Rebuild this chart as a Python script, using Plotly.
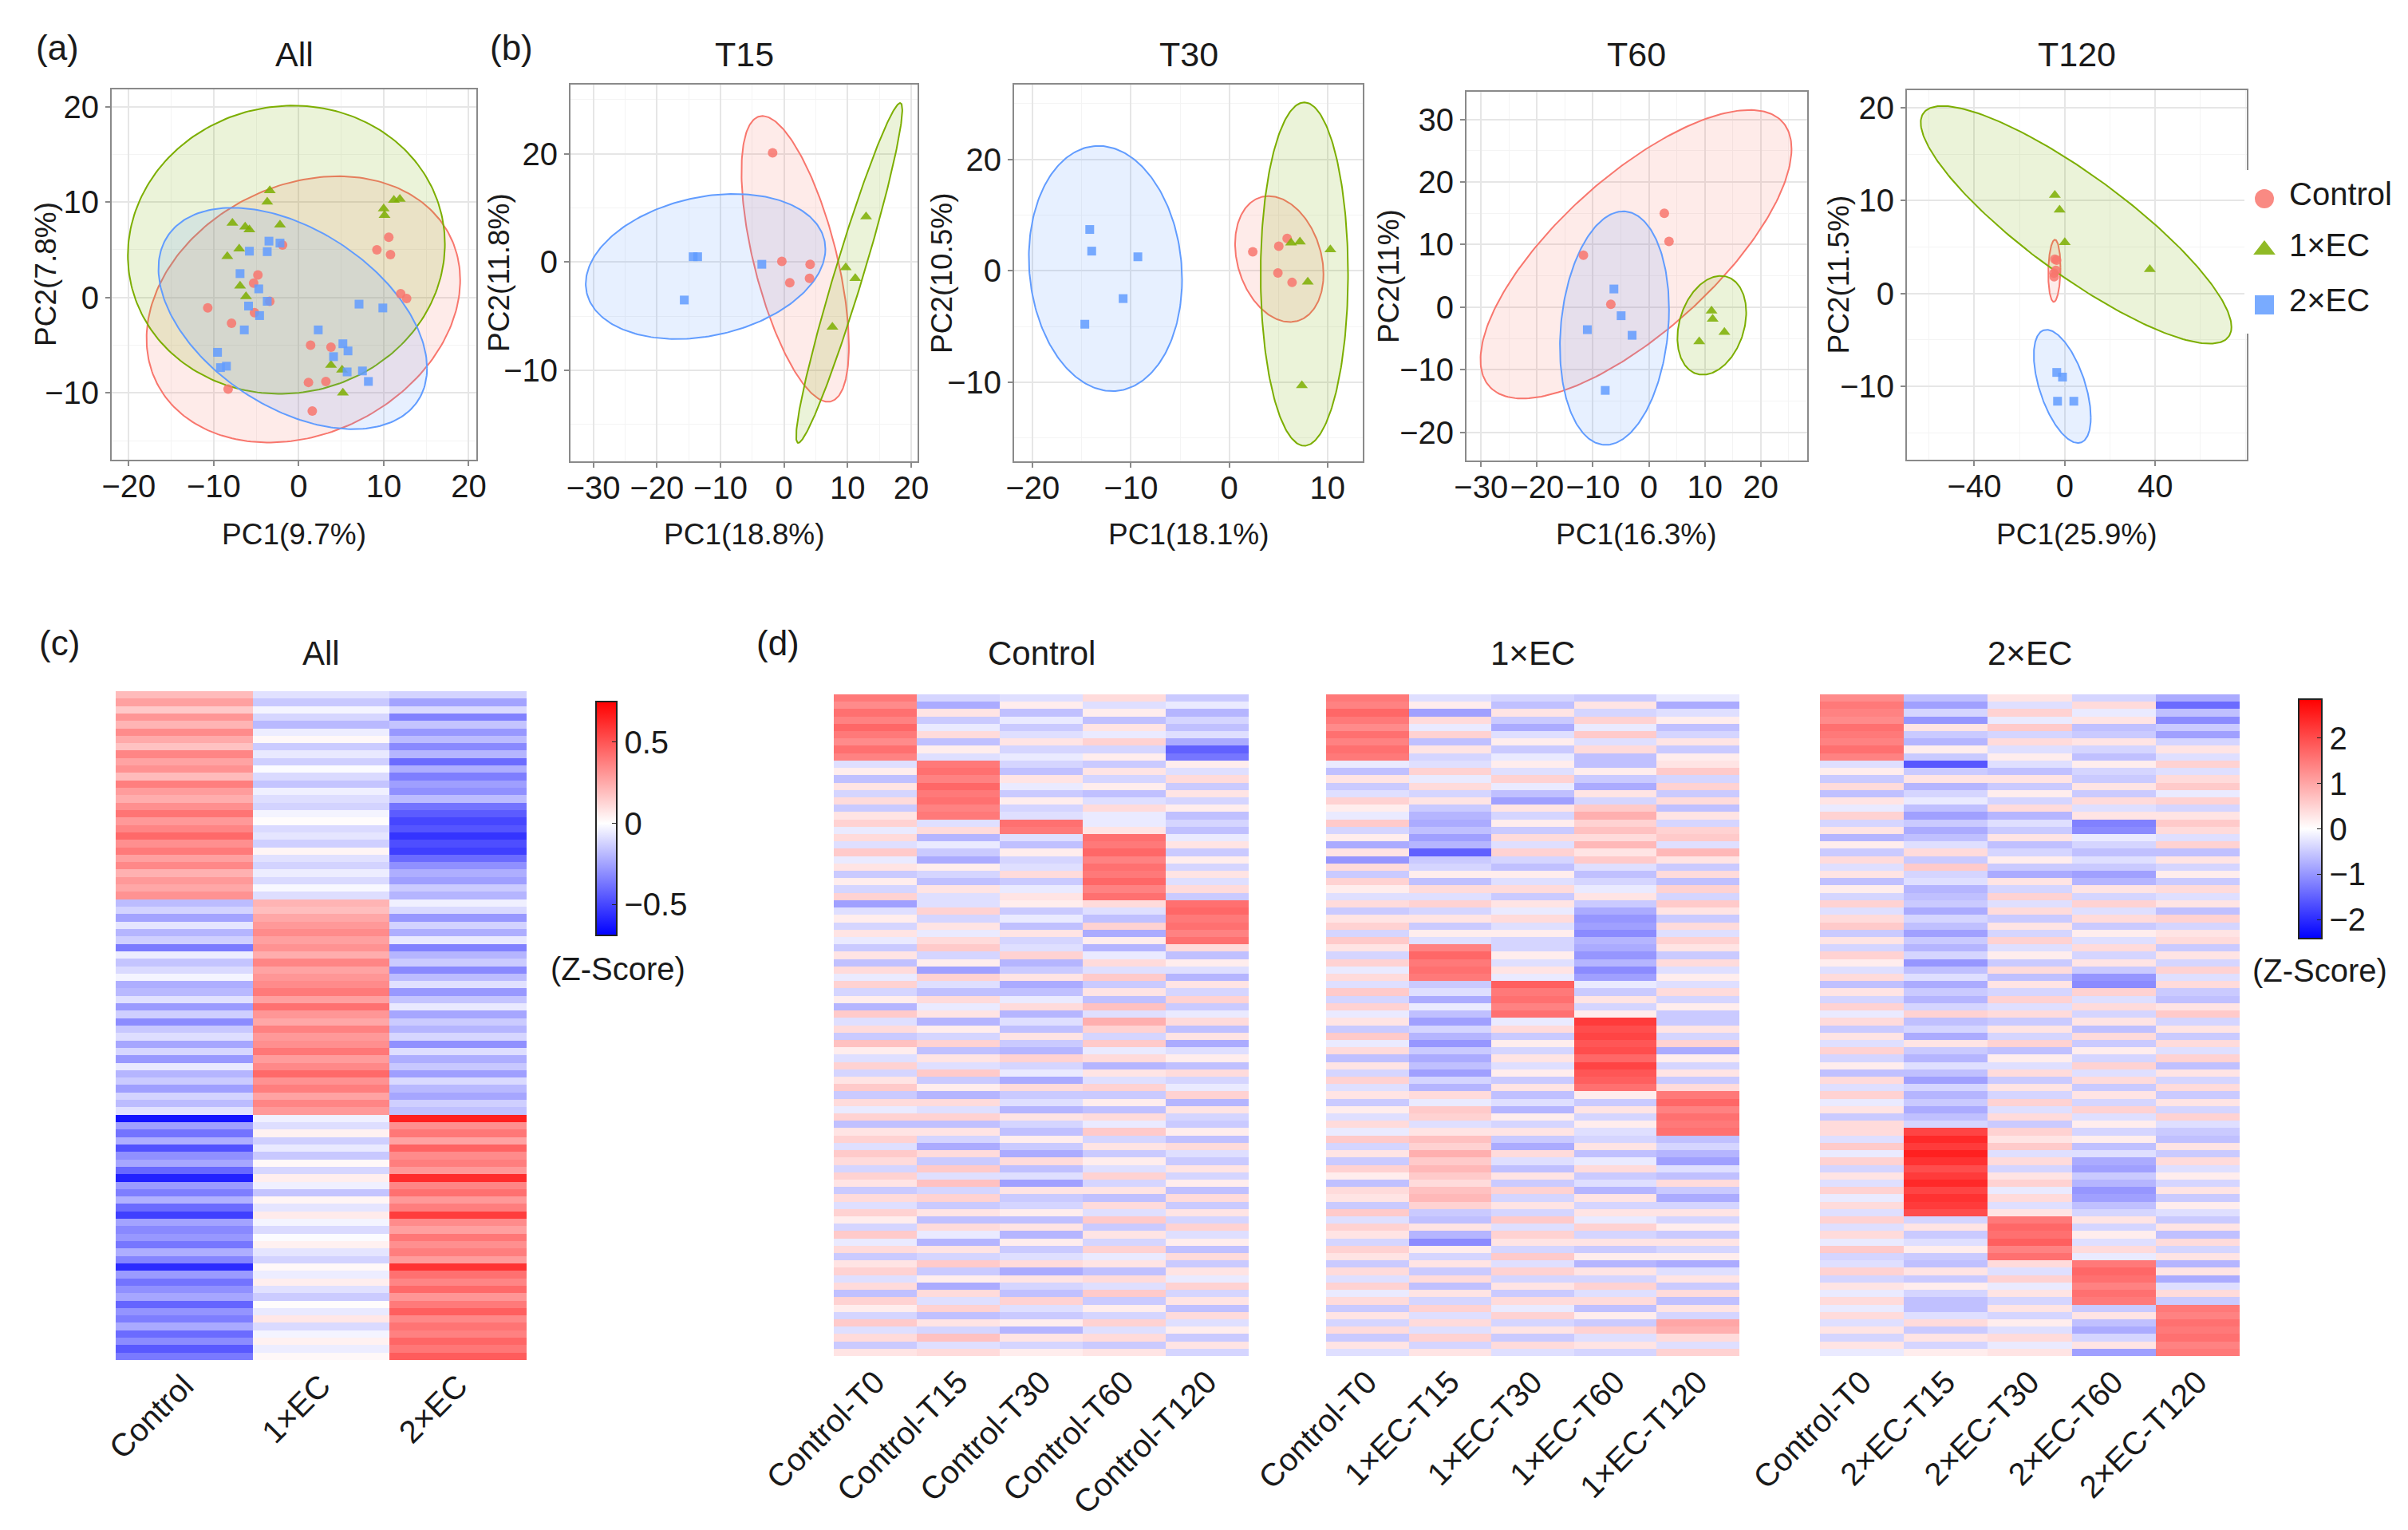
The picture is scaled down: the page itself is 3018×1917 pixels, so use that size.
import numpy as np
import plotly.graph_objects as go

W, H = 3018, 1917
FONT = "Arial, Liberation Sans, sans-serif"
TXT = "#1a1a1a"

GROUPS = ["Control", "1×EC", "2×EC"]
COLORS = {"Control": "#F8766D", "1×EC": "#7CAE00", "2×EC": "#619CFF"}
FILLS = {"Control": "rgba(248,118,109,0.15)", "1×EC": "rgba(124,174,0,0.15)", "2×EC": "rgba(97,156,255,0.15)"}
SYMBOLS = {"Control": "circle", "1×EC": "triangle-up", "2×EC": "square"}

# ---------------- PCA panels ----------------
pca_titles = ["All", "T15", "T30", "T60", "T120"]
pc1_labels = ["PC1(9.7%)", "PC1(18.8%)", "PC1(18.1%)", "PC1(16.3%)", "PC1(25.9%)"]
pc2_labels = ["PC2(7.8%)", "PC2(11.8%)", "PC2(10.5%)", "PC2(11%)", "PC2(11.5%)"]

all_ctrl_pc1 = [-1.9, -4.8, -5.3, -3.4, -5.2, -10.7, -7.9, -8.3, 1.4, 3.8, 1.15, 3.2, 1.6, 9.2, 10.6, 10.8, 12.0, 12.7]
all_ctrl_pc2 = [5.5, 2.35, 1.5, -0.4, -1.6, -1.1, -2.7, -9.6, -5.0, -5.2, -8.9, -8.8, -11.9, 5.0, 6.3, 4.5, 0.4, -0.1]
all_ec1_pc1 = [-3.4, -3.7, -7.8, -6.3, -5.8, -2.2, -7.0, -8.4, -6.9, -6.2, 10.0, 10.1, 11.2, 11.9, 3.8, 5.1, 5.2]
all_ec1_pc2 = [11.2, 10.0, 7.8, 7.4, 7.1, 7.6, 5.1, 4.3, 1.2, 0.1, 9.3, 8.6, 10.2, 10.3, -7.1, -7.6, -10.0]
all_ec2_pc1 = [-3.5, -2.2, -5.8, -3.7, -6.9, -4.7, -3.7, -5.9, -4.6, -6.4, -9.55, -9.2, -8.5, 7.1, 9.9, 2.3, 5.2, 5.8, 4.1, 5.7, 7.5, 8.2]
all_ec2_pc2 = [5.9, 5.7, 4.85, 4.8, 2.5, 0.9, -0.4, -0.9, -1.9, -3.4, -5.75, -7.35, -7.2, -0.7, -1.1, -3.4, -4.85, -5.6, -6.2, -7.8, -7.7, -8.8]

t15_ctrl_pc1 = [-1.8, -0.35, 0.9, 4.1, 4.0]
t15_ctrl_pc2 = [10.1, 0.07, -1.9, -0.2, -1.5]
t15_ec1_pc1 = [12.9, 9.7, 11.2, 7.6]
t15_ec1_pc2 = [4.2, -0.5, -1.5, -6.0]
t15_ec2_pc1 = [-14.3, -13.6, -15.7, -3.5]
t15_ec2_pc2 = [0.5, 0.5, -3.5, -0.2]

t30_ctrl_pc1 = [2.4, 5.05, 5.9, 4.96, 6.4]
t30_ctrl_pc2 = [1.7, 2.2, 2.9, -0.2, -1.05]
t30_ec1_pc1 = [6.3, 7.2, 10.3, 8.0, 7.4]
t30_ec1_pc2 = [2.5, 2.6, 1.9, -1.0, -10.3]
t30_ec2_pc1 = [-14.2, -14.0, -9.3, -10.8, -14.7]
t30_ec2_pc2 = [3.7, 1.76, 1.25, -2.5, -4.8]

t60_ctrl_pc1 = [2.76, 3.6, -11.7, -6.8]
t60_ctrl_pc2 = [15.0, 10.5, 8.3, 0.46]
t60_ec1_pc1 = [11.2, 11.4, 13.5, 9.0]
t60_ec1_pc2 = [-0.6, -1.9, -4.0, -5.5]
t60_ec2_pc1 = [-6.25, -4.96, -11.0, -3.0, -7.8]
t60_ec2_pc2 = [2.9, -1.37, -3.6, -4.5, -13.3]

t120_ctrl_pc1 = [-4.4, -3.6, -4.8, -4.7, -3.9]
t120_ctrl_pc2 = [3.7, 3.6, 2.2, 1.8, 2.5]
t120_ec1_pc1 = [-4.4, -2.3, 0.0, 37.6]
t120_ec1_pc2 = [10.6, 9.0, 5.5, 2.6]
t120_ec2_pc1 = [-3.55, -1.0, -3.2, 4.0]
t120_ec2_pc2 = [-8.5, -9.0, -11.6, -11.6]

# confidence ellipses: (centre PC1, centre PC2, half-width PC1, half-height PC2, correlation)
all_ellipses = [(0.55, -1.25, 18.45, 13.95, 0.22), (-1.45, 5.0, 18.65, 15.1, 0.04), (-0.7, -2.2, 15.8, 11.6, -0.45)]
t15_ellipses = [(1.75, 0.3, 8.45, 13.2, -0.61), (10.25, -1.0, 8.35, 15.7, 0.96), (-12.35, -0.4, 18.85, 6.7, 0.24)]
t30_ellipses = [(5.1, 1.05, 4.5, 5.65, -0.24), (7.65, -0.3, 4.45, 15.4, 0.0), (-12.6, 0.2, 7.8, 11.0, -0.09)]
t60_ellipses = [(-2.3, 8.45, 27.8, 23.05, 0.73), (11.25, -2.9, 6.15, 7.9, 0.26), (-6.15, -3.35, 9.75, 18.65, 0.16)]
t120_ellipses = [(-4.6, 2.45, 2.7, 3.35, 0.1), (5.0, 7.4, 68.7, 12.8, -0.86), (-1.1, -10.0, 12.6, 6.1, -0.55)]

pca_xrange = [[-22, 20.9], [-33.6, 21.0], [-21.9, 13.6], [-32.6, 28.3], [-69.8, 80.5]]
pca_yrange = [[-17, 21.8], [-18.4, 16.4], [-17.1, 16.7], [-24.5, 34.4], [-17.9, 21.9]]
pca_xticks = [[-20, -10, 0, 10, 20], [-30, -20, -10, 0, 10, 20], [-20, -10, 0, 10], [-30, -20, -10, 0, 10, 20], [-40, 0, 40]]
pca_yticks = [[-10, 0, 10, 20], [-10, 0, 10], [-10, 0, 10], [-20, -10, 0, 10, 20, 30], [-10, 0, 10, 20]]
pca_yticktext = [["−10", "0", "10", "20"], ["−10", "0", "20"], ["−10", "0", "20"],
                 ["−20", "−10", "0", "10", "20", "30"], ["−10", "0", "10", "20"]]
pca_xminor = [5, 5, 5, 5, 20]
pca_yminor = [5, 5, 5, 5, 5]

# ---------------- Heatmap data (Z-scores) ----------------
heat_all_cols = ["Control", "1×EC", "2×EC"]
heat_all = [
    [0.20, -0.08, -0.12], [0.28, -0.15, -0.25], [0.16, -0.03, -0.10], [0.31, -0.11, -0.34],
    [0.22, -0.19, -0.16], [0.34, -0.05, -0.28], [0.25, 0.02, -0.18], [0.18, -0.14, -0.32],
    [0.36, -0.06, -0.20], [0.27, -0.13, -0.40], [0.32, -0.01, -0.22], [0.20, -0.10, -0.35],
    [0.38, -0.16, -0.26], [0.29, -0.04, -0.30], [0.24, -0.09, -0.18], [0.33, -0.12, -0.38],
    [0.41, -0.03, -0.44], [0.30, 0.01, -0.50], [0.36, -0.10, -0.46], [0.44, -0.07, -0.55],
    [0.33, -0.13, -0.48], [0.39, 0.03, -0.52], [0.28, -0.08, -0.40], [0.35, -0.12, -0.30],
    [0.23, -0.05, -0.22], [0.30, -0.10, -0.26], [0.26, -0.02, -0.14], [0.32, -0.09, -0.20],
    [-0.18, 0.22, -0.04], [-0.12, 0.19, -0.10], [-0.25, 0.26, -0.28], [-0.07, 0.30, -0.12],
    [-0.20, 0.34, -0.22], [-0.13, 0.28, -0.06], [-0.36, 0.32, -0.34], [-0.05, 0.24, -0.20],
    [-0.16, 0.36, -0.14], [-0.10, 0.27, -0.32], [-0.03, 0.31, -0.18], [-0.22, 0.34, -0.08],
    [-0.19, 0.39, -0.28], [-0.08, 0.28, -0.16], [-0.27, 0.42, -0.06], [-0.13, 0.31, -0.24],
    [-0.31, 0.26, -0.14], [-0.15, 0.37, -0.20], [-0.09, 0.30, -0.11], [-0.24, 0.33, -0.30],
    [-0.11, 0.40, -0.09], [-0.28, 0.29, -0.22], [-0.06, 0.35, -0.15], [-0.20, 0.44, -0.26],
    [-0.14, 0.32, -0.10], [-0.26, 0.38, -0.19], [-0.12, 0.27, -0.24], [-0.18, 0.36, -0.13],
    [-0.08, 0.30, -0.17],
    [-0.64, -0.04, 0.66], [-0.26, -0.09, 0.33], [-0.38, 0.04, 0.40], [-0.22, -0.13, 0.27],
    [-0.47, -0.06, 0.46], [-0.30, -0.15, 0.34], [-0.24, 0.02, 0.38], [-0.41, -0.11, 0.30],
    [-0.60, 0.05, 0.62], [-0.27, -0.04, 0.36], [-0.35, -0.16, 0.42], [-0.21, 0.03, 0.30],
    [-0.40, -0.07, 0.38], [-0.52, 0.06, 0.57], [-0.25, -0.03, 0.34], [-0.32, -0.10, 0.28],
    [-0.28, -0.01, 0.40], [-0.37, 0.04, 0.33], [-0.22, -0.07, 0.38], [-0.33, -0.12, 0.29],
    [-0.57, 0.02, 0.60], [-0.27, -0.05, 0.42], [-0.38, 0.05, 0.36], [-0.30, -0.08, 0.44],
    [-0.24, -0.14, 0.31], [-0.42, 0.01, 0.39], [-0.29, -0.06, 0.47], [-0.35, 0.07, 0.35],
    [-0.23, -0.10, 0.41], [-0.40, -0.03, 0.37], [-0.31, 0.04, 0.45], [-0.45, -0.05, 0.40],
    [-0.36, 0.02, 0.48],
]

heat_ctrl_cols = ["Control-T0", "Control-T15", "Control-T30", "Control-T60", "Control-T120"]
heat_ctrl = [
    [1.5, -0.4, -0.3, 0.4, -0.5], [1.3, -0.8, 0.2, -0.3, -0.2], [1.6, 0.3, -0.6, 0.2, -0.7],
    [1.4, -0.5, -0.2, -0.6, -0.4], [1.7, -0.2, -0.5, 0.3, -0.6], [1.5, 0.4, -0.3, -0.2, -0.3],
    [1.3, -0.6, 0.3, 0.5, -0.8], [1.6, 0.2, -0.4, -0.4, -1.5], [1.4, -0.3, -0.2, 0.2, -1.3],
    [-0.3, 1.5, -0.4, -0.5, 0.2], [0.2, 1.6, -0.6, 0.3, -0.3], [-0.6, 1.4, 0.3, -0.4, 0.4],
    [0.3, 1.7, -0.2, 0.2, -0.5], [-0.4, 1.5, -0.5, -0.6, 0.3], [0.4, 1.6, 0.2, -0.3, -0.4],
    [-0.5, 1.4, -0.4, 0.4, 0.2], [0.3, 1.5, -0.3, -0.2, -0.6],
    [0.5, -0.3, 1.6, -0.2, -0.4], [-0.2, 0.4, 1.5, 0.3, -0.6],
    [0.4, -0.7, -0.3, 1.6, -0.2], [-0.3, -0.2, -0.6, 1.5, 0.3], [0.6, -0.5, 0.2, 1.7, -0.5],
    [-0.2, -0.8, -0.4, 1.4, 0.2], [0.3, 0.2, -0.3, 1.6, -0.4], [-0.5, -0.4, 0.4, 1.5, 0.3],
    [0.2, -0.6, -0.5, 1.7, -0.3], [-0.4, 0.3, -0.2, 1.4, 0.4], [0.5, -0.3, 0.3, 1.6, -0.5],
    [-0.9, -0.3, 0.2, 0.4, 1.6], [-0.3, 0.5, -0.5, -0.3, 1.7], [0.2, -0.4, -0.2, -0.6, 1.5],
    [-0.4, 0.3, -0.6, 0.5, 1.6], [0.3, -0.2, 0.3, -0.8, 1.4], [-0.2, 0.4, -0.4, 0.2, 1.6],
    [-0.5, 0.6, -0.3, -0.7, 0.4], [0.3, -0.4, 0.5, -0.2, -0.6], [-0.6, 0.2, -0.7, 0.4, 0.2],
    [0.4, -0.9, -0.5, -0.3, -0.3], [-0.2, 0.5, 0.3, 0.6, -0.7], [0.5, -0.3, -0.8, -0.5, 0.3],
    [-0.4, -0.6, -0.6, 0.3, -0.4], [0.2, 0.4, -0.2, -0.6, 0.5], [-0.7, -0.2, 0.4, 0.7, -0.5],
    [0.6, 0.3, -0.7, -0.3, -0.2], [-0.3, -0.7, -0.3, 0.9, 0.4], [0.4, 0.2, -0.6, 0.5, -0.6],
    [-0.5, -0.4, 0.3, -0.4, 0.3], [0.7, 0.5, -0.5, 0.6, -0.8], [0.2, -0.6, -0.7, -0.2, -0.3],
    [-0.3, 0.3, 0.5, 0.4, 0.2], [0.5, -0.3, -0.4, -0.7, -0.6], [-0.4, 0.6, -0.2, 0.3, 0.4],
    [0.3, -0.5, -0.8, -0.3, -0.4], [0.6, 0.2, 0.4, 0.5, -0.2], [-0.5, -0.7, -0.5, -0.5, 0.5],
    [0.4, 0.4, -0.3, 0.2, -0.7], [-0.2, -0.3, -0.7, -0.6, 0.3], [0.5, 0.5, 0.3, 0.4, -0.4],
    [-0.6, -0.6, -0.4, -0.2, -0.5], [0.3, 0.3, -0.6, 0.6, 0.2], [0.5, -0.4, 0.2, -0.4, -0.6],
    [-0.3, -0.8, -0.5, 0.3, 0.4], [0.6, 0.4, -0.8, -0.5, -0.3], [0.4, -0.5, 0.4, 0.2, -0.5],
    [-0.4, 0.6, -0.6, -0.3, 0.3], [0.5, -0.3, -0.3, 0.5, -0.4], [0.3, 0.7, -0.9, -0.4, 0.2],
    [-0.5, -0.4, 0.3, 0.3, -0.6], [0.4, 0.5, -0.5, -0.6, 0.4], [-0.3, -0.5, -0.4, 0.4, -0.5],
    [0.5, 0.3, 0.2, -0.3, 0.3], [0.2, -0.6, -0.6, 0.6, -0.4], [-0.4, 0.4, 0.3, -0.5, 0.5],
    [0.6, -0.2, -0.7, 0.3, -0.3], [-0.2, -0.7, 0.2, -0.4, 0.2], [0.4, 0.3, -0.5, 0.5, -0.6],
    [-0.5, -0.4, -0.3, -0.2, 0.4], [0.3, 0.6, 0.4, 0.3, -0.5], [0.5, -0.5, -0.8, -0.6, 0.3],
    [-0.3, 0.2, 0.3, 0.4, -0.2], [0.4, -0.8, -0.4, -0.3, 0.5], [-0.6, 0.4, -0.6, 0.6, -0.4],
    [0.5, -0.3, 0.5, -0.5, 0.3], [0.2, 0.5, -0.3, 0.2, -0.6], [-0.4, -0.6, -0.5, -0.4, 0.4],
    [0.6, 0.3, 0.2, 0.5, -0.3], [-0.3, -0.4, -0.7, -0.3, 0.2], [0.4, 0.7, 0.3, 0.4, -0.5],
    [-0.5, -0.3, -0.4, -0.5, 0.3], [0.3, 0.4, 0.2, 0.3, -0.4],
]

heat_ec1_cols = ["Control-T0", "1×EC-T15", "1×EC-T30", "1×EC-T60", "1×EC-T120"]
heat_ec1 = [
    [1.5, -0.3, -0.4, -0.5, -0.2], [1.4, 0.2, -0.6, 0.3, -0.8], [1.7, -0.9, 0.3, -0.4, -0.3],
    [1.5, 0.4, -0.5, 0.5, 0.2], [1.3, -0.2, -0.8, -0.2, -0.6], [1.6, 0.5, -0.3, 0.6, -0.4],
    [1.4, -0.6, 0.2, -0.3, 0.3], [1.6, 0.3, -0.5, 0.4, -0.5], [1.5, -0.4, -0.2, -0.6, 0.2],
    [-0.2, -0.3, 0.2, -0.6, 0.3], [-0.6, 0.5, -0.3, 0.2, 0.6], [0.3, -0.2, 0.5, -0.5, -0.4],
    [-0.5, 0.4, -0.2, -0.8, 0.5], [-0.3, -0.4, -0.6, 0.3, -0.5], [0.5, 0.3, -0.9, -0.4, 0.4],
    [0.2, -0.5, 0.3, 0.6, -0.6], [-0.2, -0.7, -0.4, 0.9, 0.3], [0.6, -0.8, 0.2, 0.5, -0.4],
    [-0.4, -0.6, -0.5, 0.7, 0.5], [0.2, -0.9, 0.4, 0.4, 0.6], [-0.8, -0.7, -0.3, 0.8, -0.3],
    [0.3, -1.5, 0.5, 0.3, 0.8], [-1.0, -0.5, -0.4, 0.6, 0.3], [0.4, -0.4, -0.6, -0.3, -0.5],
    [-0.5, 0.2, 0.2, -0.6, 0.4], [0.5, -0.6, -0.3, -0.4, -0.6], [0.2, 0.4, 0.4, -0.2, 0.5],
    [-0.3, -0.3, -0.5, 0.3, -0.4], [0.4, 0.5, 0.3, -0.5, 0.6], [-0.5, -0.4, -0.2, -0.8, 0.3],
    [0.3, 0.3, 0.4, -1.0, -0.5], [0.5, -0.5, -0.3, -0.9, 0.4], [-0.4, 0.2, 0.2, -1.1, -0.3],
    [0.6, -0.3, -0.4, -0.7, 0.5],
    [0.3, 1.4, -0.4, -0.8, 0.3], [-0.4, 1.7, 0.2, -1.0, -0.5], [0.5, 1.5, -0.3, -0.7, 0.4],
    [-0.2, 1.6, 0.3, -1.1, -0.3], [0.4, 1.5, -0.2, -0.9, 0.2],
    [-0.3, -0.5, 1.8, -0.2, -0.3], [0.6, -0.3, 1.5, -0.5, 0.4], [-0.4, -0.8, 1.6, 0.3, -0.4],
    [0.5, -0.2, 1.4, -0.4, 0.2], [-0.2, -0.6, 1.6, 0.2, -0.5],
    [0.3, -0.9, -0.2, 2.2, -0.5], [-0.5, -0.4, 0.4, 2.0, 0.3], [0.6, -0.7, -0.5, 2.1, -0.4],
    [-0.2, -1.0, 0.2, 1.9, 0.5], [0.4, -0.5, -0.4, 2.0, -0.8], [-0.6, -0.8, 0.3, 1.7, 0.2],
    [0.3, -0.6, -0.3, 2.1, -0.4], [-0.4, -0.9, 0.2, 1.9, 0.3], [0.5, -0.4, -0.5, 1.8, -0.5],
    [-0.3, -0.7, 0.3, 1.6, 0.4],
    [0.3, 0.4, -0.6, 0.2, 1.5], [-0.5, -0.2, -0.3, -0.5, 1.7], [0.2, 0.6, -0.7, 0.3, 1.4],
    [-0.3, 0.5, 0.2, -0.4, 1.6], [0.4, -0.3, -0.4, 0.2, 1.5], [-0.2, 0.3, 0.3, -0.3, 1.6],
    [0.6, 0.7, -0.5, -0.4, -0.6], [-0.4, 0.5, -0.8, 0.3, -0.4], [0.3, 0.9, 0.4, -0.6, -0.7],
    [-0.5, 0.6, -0.3, -0.2, -0.9], [0.5, 0.8, -0.6, 0.4, -0.3], [0.2, 0.6, 0.3, -0.5, -0.6],
    [-0.6, 0.4, -0.5, -0.3, 0.4], [0.4, 0.7, 0.5, -0.7, -0.5], [0.3, 0.8, -0.4, 0.3, -0.8],
    [-0.5, 0.5, 0.3, -0.4, -0.4], [0.6, -0.5, -0.4, 0.3, 0.3], [-0.3, -0.6, 0.6, -0.2, -0.4],
    [0.5, 0.3, -0.3, 0.5, 0.2], [0.3, -0.7, 0.5, -0.4, -0.5], [-0.4, -1.1, 0.3, 0.3, 0.3],
    [0.5, 0.2, -0.4, -0.5, -0.4], [0.3, -0.4, 0.6, 0.2, 0.2], [-0.5, 0.3, -0.3, -0.7, -0.8],
    [0.4, -0.5, 0.5, 0.3, -0.3], [-0.3, 0.4, -0.4, -0.4, 0.3], [0.5, -0.6, 0.3, 0.5, -0.5],
    [-0.2, 0.3, -0.5, -0.3, 0.4], [0.4, -0.4, 0.4, 0.4, -0.6], [-0.5, 0.5, -0.2, -0.6, 0.3],
    [0.3, -0.3, 0.5, 0.2, -0.4], [-0.4, 0.4, -0.4, -0.5, 1.0], [0.4, -0.3, 0.3, 0.5, 0.9],
    [-0.5, 0.5, -0.5, -0.3, 0.4], [0.3, -0.4, 0.4, 0.3, -0.3], [-0.3, 0.3, -0.3, -0.4, 0.5],
]

heat_ec2_cols = ["Control-T0", "2×EC-T15", "2×EC-T30", "2×EC-T60", "2×EC-T120"]
heat_ec2 = [
    [1.3, -0.6, 0.3, -0.4, -0.8], [1.5, -0.9, -0.3, 0.4, -1.4], [1.4, -0.4, 0.5, -0.2, -0.6],
    [1.3, -1.0, -0.2, 0.3, -1.1], [1.6, 0.3, 0.6, -0.6, -0.5], [1.5, -0.5, -0.4, -0.5, -0.9],
    [1.4, -0.7, 0.4, 0.3, -0.4], [1.6, 0.2, -0.3, -0.4, 0.3], [1.4, -0.5, 0.2, -0.6, -0.3],
    [-0.3, -1.6, -0.3, 0.2, 0.5], [0.2, -0.5, -0.6, -0.4, -0.3], [-0.5, 0.3, 0.3, -0.5, 0.4],
    [0.4, -0.7, -0.5, 0.3, 0.6], [-0.6, -0.4, 0.2, -0.5, -0.2], [0.3, -0.2, -0.4, 0.4, 0.5],
    [-0.2, -0.6, 0.4, -0.3, -0.4], [0.5, -0.9, -0.7, 0.3, 0.3], [-0.4, -0.5, -0.3, -1.2, 0.6],
    [0.3, -0.8, -0.5, -1.1, 0.4], [-0.7, -0.6, 0.3, -0.2, -0.3], [0.2, -0.3, -0.6, -0.4, 0.5],
    [-0.5, 0.4, -0.4, -0.6, -0.6], [0.4, -0.5, 0.2, -0.3, 0.3], [-0.3, 0.6, -0.5, -0.5, -0.4],
    [0.3, -0.4, -0.8, -0.9, 0.2], [-0.6, -0.3, 0.3, -0.7, -0.5], [0.2, -0.7, -0.4, 0.3, 0.4],
    [-0.4, -0.6, 0.5, -0.4, -0.3], [0.5, -0.5, -0.3, 0.5, 0.3], [-0.3, -0.8, 0.4, -0.3, -0.6],
    [0.4, -0.4, -0.5, 0.4, 0.5], [0.6, -0.6, 0.3, -0.5, -0.4], [-0.5, -0.9, -0.4, 0.2, 0.3],
    [0.3, -0.5, 0.5, -0.3, 0.4], [-0.4, -0.7, -0.3, 0.4, -0.5], [0.5, -0.4, 0.2, -0.4, 0.3],
    [0.2, -1.0, -0.5, 0.3, -0.4], [-0.3, -0.6, 0.4, -0.5, 0.5], [0.4, -0.3, -0.6, -1.0, -0.3],
    [-0.6, -0.8, 0.3, -1.1, 0.4], [0.3, -0.5, -0.4, 0.5, -0.5], [-0.4, -0.7, 0.5, -0.3, -0.6],
    [0.5, -0.4, -0.3, 0.4, 0.3], [-0.2, 0.5, 0.4, -0.4, 0.6], [0.4, -0.6, -0.5, 0.3, -0.4],
    [-0.5, -0.4, 0.3, -0.6, 0.3], [0.3, -0.8, -0.4, 0.4, -0.5], [-0.3, 0.3, 0.5, -0.5, 0.4],
    [0.5, -0.5, -0.6, 0.2, -0.3], [-0.4, -0.7, 0.2, -0.4, 0.5], [0.2, -0.3, -0.3, 0.5, -0.6],
    [-0.6, -0.6, 0.4, -0.3, 0.3], [0.4, -0.9, -0.5, 0.4, -0.4], [-0.3, -0.4, 0.3, -0.5, 0.4],
    [0.5, -0.7, -0.4, 0.3, -0.5], [-0.2, -0.5, 0.5, -0.4, 0.3], [0.3, -0.8, -0.3, 0.5, -0.4],
    [-0.5, -0.6, 0.4, -0.3, 0.5], [0.4, -0.4, -0.5, 0.2, -0.3],
    [0.4, 2.1, 0.5, -0.4, -0.5], [-0.3, 2.4, 0.3, 0.2, -0.6], [0.6, 2.2, 0.6, -0.6, 0.3],
    [-0.2, 2.5, -0.3, -0.3, -0.5], [0.5, 2.3, 0.4, -0.8, 0.4], [-0.4, 2.0, -0.4, -0.9, -0.3],
    [0.3, 2.2, 0.3, -0.5, 0.2], [-0.3, 2.4, 0.5, -0.7, -0.4], [0.5, 2.1, -0.2, -1.0, 0.3],
    [-0.2, 2.3, 0.4, -0.9, -0.5], [0.4, 2.2, -0.3, -0.6, 0.2], [-0.3, 2.0, 0.3, -0.4, -0.3],
    [0.5, -0.4, 1.5, 0.3, -0.5], [-0.3, 0.3, 1.7, -0.4, 0.3], [0.4, -0.5, 1.6, 0.2, -0.6],
    [-0.2, -0.3, 1.8, -0.3, 0.4], [0.6, 0.2, 1.4, 0.4, -0.4], [-0.4, -0.5, 1.6, -0.2, 0.3],
    [-0.3, -0.6, 0.4, 1.5, -0.7], [0.5, 0.3, -0.3, 1.7, 0.3], [-0.4, -0.5, 0.5, 1.6, -0.8],
    [0.3, 0.2, -0.2, 1.4, -0.3], [-0.2, -0.4, 0.3, 1.6, 0.4], [0.4, -0.6, -0.4, 1.5, -0.5],
    [-0.2, -0.6, 0.3, -0.5, 1.5], [0.4, -0.3, -0.4, 0.3, 1.4], [-0.3, 0.4, 0.2, -0.6, 1.6],
    [0.3, -0.5, -0.3, -0.8, 1.5], [-0.4, 0.3, 0.4, -0.4, 1.6], [0.3, -0.4, -0.2, 0.3, 1.4],
    [-0.2, 0.2, 0.3, -0.9, 1.5],
]

legend_labels = ["Control", "1×EC", "2×EC"]

# ---------------- layout helpers ----------------
def dx(a, b):
    return [a / W, b / W]

def dy(top, bottom):
    return [1 - bottom / H, 1 - top / H]

def px(x):
    return x / W

def py(y):
    return 1 - y / H

def ann(text, x, y, size, angle=0, xanchor="center"):
    return dict(text=text, x=px(x), y=py(y), xref="paper", yref="paper", showarrow=False,
                xanchor=xanchor, yanchor="middle", textangle=angle,
                font=dict(family=FONT, size=size, color=TXT))

fig = go.Figure()
layout = {}
annotations = []

pca_boxes = [(132, 589, 104, 568), (707, 1142, 98, 570), (1263, 1700, 98, 570),
             (1830, 2257, 107, 569), (2382, 2808, 105, 568)]
pc2_title_x = [50, 617, 1172, 1733, 2296]

pca_points = [
    [(all_ctrl_pc1, all_ctrl_pc2), (all_ec1_pc1, all_ec1_pc2), (all_ec2_pc1, all_ec2_pc2)],
    [(t15_ctrl_pc1, t15_ctrl_pc2), (t15_ec1_pc1, t15_ec1_pc2), (t15_ec2_pc1, t15_ec2_pc2)],
    [(t30_ctrl_pc1, t30_ctrl_pc2), (t30_ec1_pc1, t30_ec1_pc2), (t30_ec2_pc1, t30_ec2_pc2)],
    [(t60_ctrl_pc1, t60_ctrl_pc2), (t60_ec1_pc1, t60_ec1_pc2), (t60_ec2_pc1, t60_ec2_pc2)],
    [(t120_ctrl_pc1, t120_ctrl_pc2), (t120_ec1_pc1, t120_ec1_pc2), (t120_ec2_pc1, t120_ec2_pc2)],
]
pca_ellipses = [all_ellipses, t15_ellipses, t30_ellipses, t60_ellipses, t120_ellipses]

tt = np.linspace(0, 2 * np.pi, 241)
marker_sizes = {"Control": 12, "1×EC": 13, "2×EC": 11}

for i in range(5):
    n = i + 1
    xa = "x" if n == 1 else f"x{n}"
    ya = "y" if n == 1 else f"y{n}"
    l, r, t, b = pca_boxes[i]
    for g, (cx, cy, rx, ry, rho) in zip(GROUPS, pca_ellipses[i]):
        ex = cx + rx * np.cos(tt)
        ey = cy + ry * (rho * np.cos(tt) + np.sqrt(1 - rho ** 2) * np.sin(tt))
        fig.add_trace(go.Scatter(x=ex, y=ey, mode="lines", fill="toself",
                                 fillcolor=FILLS[g], line=dict(color=COLORS[g], width=2),
                                 hoverinfo="skip", showlegend=False, xaxis=xa, yaxis=ya))
    for g, (xs, ys) in zip(GROUPS, pca_points[i]):
        fig.add_trace(go.Scatter(x=xs, y=ys, mode="markers", name=g,
                                 marker=dict(symbol=SYMBOLS[g], color=COLORS[g], size=marker_sizes[g],
                                             opacity=0.85, line=dict(width=0)),
                                 showlegend=False, xaxis=xa, yaxis=ya))
    xkey = "xaxis" if n == 1 else f"xaxis{n}"
    ykey = "yaxis" if n == 1 else f"yaxis{n}"
    axis_common = dict(showline=True, mirror=True, linecolor="#8a8a8a", linewidth=2,
                       ticks="outside", ticklen=6, tickwidth=2, tickcolor="#8a8a8a",
                       showgrid=True, gridcolor="#E6E6E6", gridwidth=1.5, zeroline=False,
                       automargin=False, tickangle=0,
                       tickfont=dict(family=FONT, size=40, color=TXT))
    layout[xkey] = dict(domain=dx(l, r), anchor=ya, range=pca_xrange[i],
                        tickmode="array", tickvals=pca_xticks[i], ticklabelstandoff=-9,
                        minor=dict(dtick=pca_xminor[i], showgrid=True, gridcolor="#F4F4F4", gridwidth=1, ticks=""),
                        **axis_common)
    layout[ykey] = dict(domain=dy(t, b), anchor=xa, range=pca_yrange[i],
                        tickmode="array", tickvals=pca_yticks[i], ticktext=pca_yticktext[i],
                        minor=dict(dtick=pca_yminor[i], showgrid=True, gridcolor="#F4F4F4", gridwidth=1, ticks=""),
                        **axis_common)
    annotations.append(ann(pca_titles[i], (l + r) / 2, 60, 43))
    annotations.append(ann(pc1_labels[i], (l + r) / 2, 662, 37))
    annotations.append(ann(pc2_labels[i], pc2_title_x[i], (t + b) / 2, 37, angle=-90))

# ---------------- legend (hidden axis) ----------------
leg_rows = [241, 305, 374]
for g, lab, yy in zip(GROUPS, legend_labels, leg_rows):
    fig.add_trace(go.Scatter(x=[2830], y=[yy], mode="markers", showlegend=False, hoverinfo="skip",
                             marker=dict(symbol=SYMBOLS[g], color=COLORS[g], size=24, opacity=0.85,
                                         line=dict(width=0)),
                             xaxis="x10", yaxis="y10"))
    annotations.append(ann(lab, 2859, yy - 6, 40, xanchor="left"))
layout["xaxis10"] = dict(domain=dx(2805, 2860), range=[2805, 2860], visible=False, automargin=False)
layout["yaxis10"] = dict(domain=dy(205, 410), range=[410, 205], visible=False, automargin=False, anchor="x10")

# ---------------- heatmaps ----------------
def cscale(zmin, zmax):
    mid = -zmin / (zmax - zmin)
    return [[0, "rgb(0,0,255)"], [mid, "rgb(255,255,255)"], [1, "rgb(255,0,0)"]]

heat_specs = [
    (heat_all, heat_all_cols, 137, 652, 858, 1696, -0.69, 0.75, "All", "c"),
    (heat_ctrl, heat_ctrl_cols, 1037, 1557, 862, 1691, -2.42, 2.86, "Control", None),
    (heat_ec1, heat_ec1_cols, 1654, 2172, 862, 1691, -2.42, 2.86, "1×EC", None),
    (heat_ec2, heat_ec2_cols, 2273, 2799, 862, 1691, -2.42, 2.86, "2×EC", "d"),
]

for j, (z, cols, l, r, t, b, zmin, zmax, title, cb) in enumerate(heat_specs):
    n = 6 + j
    xa, ya = f"x{n}", f"y{n}"
    colorbar = None
    if cb == "c":
        colorbar = dict(x=px(739), xanchor="left", y=py((871 + 1164) / 2), yanchor="middle",
                        len=(1164 - 871) / H, lenmode="fraction", thickness=26, thicknessmode="pixels",
                        outlinewidth=2, outlinecolor="#222", tickmode="array",
                        tickvals=[-0.5, 0, 0.5], ticktext=["−0.5", "0", "0.5"],
                        ticks="inside", ticklen=7, tickcolor="#222", xpad=0, ypad=0,
                        tickfont=dict(family=FONT, size=40, color=TXT))
    elif cb == "d":
        colorbar = dict(x=px(2873), xanchor="left", y=py((868 + 1168) / 2), yanchor="middle",
                        len=(1168 - 868) / H, lenmode="fraction", thickness=29, thicknessmode="pixels",
                        outlinewidth=2, outlinecolor="#222", tickmode="array",
                        tickvals=[-2, -1, 0, 1, 2], ticktext=["−2", "−1", "0", "1", "2"],
                        ticks="inside", ticklen=7, tickcolor="#222", xpad=0, ypad=0,
                        tickfont=dict(family=FONT, size=40, color=TXT))
    fig.add_trace(go.Heatmap(z=z, x=cols, y=list(range(len(z))), zmin=zmin, zmax=zmax,
                             colorscale=cscale(zmin, zmax), showscale=cb is not None,
                             colorbar=colorbar, xaxis=xa, yaxis=ya, hoverinfo="skip"))
    layout[f"xaxis{n}"] = dict(domain=dx(l, r), anchor=ya, tickangle=-45, showgrid=False, zeroline=False,
                               showline=False, ticks="", automargin=False,
                               tickfont=dict(family=FONT, size=40, color=TXT))
    layout[f"yaxis{n}"] = dict(domain=dy(t, b), anchor=xa, autorange="reversed", showgrid=False,
                               zeroline=False, showline=False, showticklabels=False, ticks="",
                               automargin=False)
    annotations.append(ann(title, (l + r) / 2, 810, 42))

annotations.append(ann("(Z-Score)", 766, 1206, 40))
annotations.append(ann("(Z-Score)", 2899, 1208, 40))

for lab, x, y in [("(a)", 64, 51), ("(b)", 633, 51), ("(c)", 66, 797), ("(d)", 967, 797)]:
    annotations.append(ann(lab, x, y, 44))

fig.update_layout(
    width=W, height=H, margin=dict(l=0, r=0, t=0, b=0, autoexpand=False),
    paper_bgcolor="white", plot_bgcolor="white",
    font=dict(family=FONT, color=TXT),
    showlegend=False,
    annotations=annotations,
    **layout,
)

fig.write_html("out.html")
